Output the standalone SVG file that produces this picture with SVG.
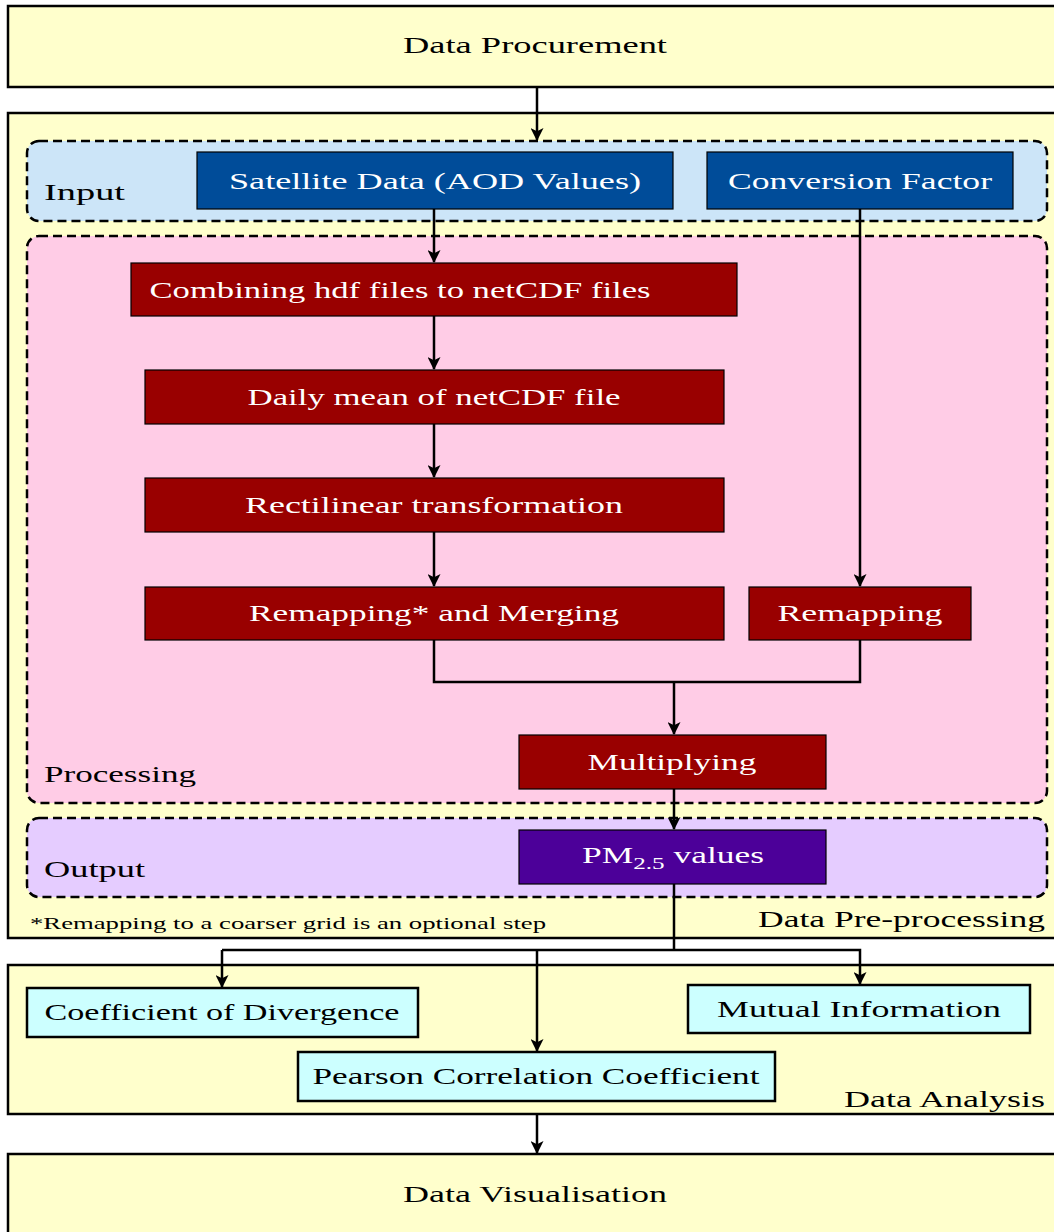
<svg xmlns="http://www.w3.org/2000/svg" width="1054" height="1232" viewBox="0 0 1054 1232">
<defs>
<marker id="ah" viewBox="0 0 12 12" refX="11" refY="6" markerWidth="13" markerHeight="13" markerUnits="userSpaceOnUse" orient="auto">
<path d="M0,0 L12,6 L0,12 L3,6 Z" fill="#000"/>
</marker>
<style>
text{font-family:"Liberation Serif","DejaVu Serif",serif;font-size:24px;fill:#000}
.w{fill:#fff;text-anchor:middle}
.c{text-anchor:middle}
.e{text-anchor:end}
.stage{fill:#ffffcc;stroke:#000;stroke-width:2.5}
.grp{stroke:#000;stroke-width:2.5;stroke-dasharray:9 5}
.blue{fill:#004c99;stroke:#000;stroke-width:1.2}
.red{fill:#990000;stroke:#000;stroke-width:1.2}
.purple{fill:#4c0099;stroke:#000;stroke-width:1.2}
.cyan{fill:#ccffff;stroke:#000;stroke-width:2.5}
.con{fill:none;stroke:#000;stroke-width:2.5}
</style>
</defs>

<g id="data-procurement">
<rect class="stage" x="8" y="6" width="1060" height="81"/>
<text class="c" x="535" y="53" textLength="264" lengthAdjust="spacingAndGlyphs">Data Procurement</text>
</g>

<g id="data-preprocessing">
<rect class="stage" x="8" y="113" width="1060" height="825"/>
<text class="e" x="1045" y="927" textLength="287" lengthAdjust="spacingAndGlyphs">Data Pre-processing</text>
<text x="30" y="929" style="font-size:17px" textLength="516" lengthAdjust="spacingAndGlyphs">*Remapping to a coarser grid is an optional step</text>
</g>

<g id="input-group">
<rect class="grp" x="27" y="141" width="1020" height="80" rx="12" fill="#cce5f8"/>
<text x="44" y="200" textLength="81" lengthAdjust="spacingAndGlyphs">Input</text>
</g>

<g id="processing-group">
<rect class="grp" x="27" y="236" width="1020" height="567" rx="12" fill="#ffcce6"/>
<text x="44" y="782" textLength="152" lengthAdjust="spacingAndGlyphs">Processing</text>
</g>

<g id="output-group">
<rect class="grp" x="27" y="818" width="1020" height="79" rx="12" fill="#e5ccff"/>
<text x="44" y="877" textLength="101" lengthAdjust="spacingAndGlyphs">Output</text>
</g>

<g id="satellite-data">
<rect class="blue" x="197" y="152" width="476" height="57"/>
<text class="w" x="435" y="189" textLength="412" lengthAdjust="spacingAndGlyphs">Satellite Data (AOD Values)</text>
</g>

<g id="conversion-factor">
<rect class="blue" x="707" y="152" width="306" height="57"/>
<text class="w" x="860" y="189" textLength="264" lengthAdjust="spacingAndGlyphs">Conversion Factor</text>
</g>

<g id="combining">
<rect class="red" x="131" y="263" width="606" height="53"/>
<text class="w" x="400" y="298" textLength="501" lengthAdjust="spacingAndGlyphs">Combining hdf files to netCDF files</text>
</g>

<g id="daily-mean">
<rect class="red" x="145" y="370" width="579" height="54"/>
<text class="w" x="434" y="405" textLength="373" lengthAdjust="spacingAndGlyphs">Daily mean of netCDF file</text>
</g>

<g id="rectilinear">
<rect class="red" x="145" y="478" width="579" height="54"/>
<text class="w" x="434" y="513" textLength="378" lengthAdjust="spacingAndGlyphs">Rectilinear transformation</text>
</g>

<g id="remapping-merging">
<rect class="red" x="145" y="587" width="579" height="53"/>
<text class="w" x="434" y="621" textLength="370" lengthAdjust="spacingAndGlyphs">Remapping* and Merging</text>
</g>

<g id="remapping">
<rect class="red" x="749" y="587" width="222" height="53"/>
<text class="w" x="860" y="621" textLength="165" lengthAdjust="spacingAndGlyphs">Remapping</text>
</g>

<g id="multiplying">
<rect class="red" x="519" y="735" width="307" height="54"/>
<text class="w" x="672" y="770" textLength="169" lengthAdjust="spacingAndGlyphs">Multiplying</text>
</g>

<g id="pm25">
<rect class="purple" x="519" y="830" width="307" height="54"/>
<text x="582" y="863" style="fill:#fff" textLength="182" lengthAdjust="spacingAndGlyphs">PM<tspan style="font-size:17px" dy="6">2.5</tspan><tspan dy="-6"> values</tspan></text>
</g>

<g id="data-analysis">
<rect class="stage" x="8" y="965" width="1060" height="149"/>
<text class="e" x="1045" y="1107" textLength="201" lengthAdjust="spacingAndGlyphs">Data Analysis</text>
</g>

<g id="coefficient-divergence">
<rect class="cyan" x="27" y="988" width="391" height="49"/>
<text class="c" x="222" y="1020" textLength="355" lengthAdjust="spacingAndGlyphs">Coefficient of Divergence</text>
</g>

<g id="mutual-information">
<rect class="cyan" x="688" y="985" width="342" height="48"/>
<text class="c" x="859" y="1017" textLength="284" lengthAdjust="spacingAndGlyphs">Mutual Information</text>
</g>

<g id="pearson">
<rect class="cyan" x="298" y="1052" width="477" height="49"/>
<text class="c" x="536" y="1084" textLength="447" lengthAdjust="spacingAndGlyphs">Pearson Correlation Coefficient</text>
</g>

<g id="data-visualisation">
<rect class="stage" x="8" y="1154" width="1060" height="90"/>
<text class="c" x="535" y="1202" textLength="264" lengthAdjust="spacingAndGlyphs">Data Visualisation</text>
</g>

<g id="connectors">
<path class="con" d="M537,87 V140" marker-end="url(#ah)"/>
<path class="con" d="M434,209 V262" marker-end="url(#ah)"/>
<path class="con" d="M434,316 V369" marker-end="url(#ah)"/>
<path class="con" d="M434,424 V477" marker-end="url(#ah)"/>
<path class="con" d="M434,532 V586" marker-end="url(#ah)"/>
<path class="con" d="M860,209 V586" marker-end="url(#ah)"/>
<path class="con" d="M434,640 V682 H860 V640"/>
<path class="con" d="M674,682 V734" marker-end="url(#ah)"/>
<path class="con" d="M674,789 V829" marker-end="url(#ah)"/>
<path class="con" d="M674,884 V950"/>
<path class="con" d="M222,950 H860 V984" marker-end="url(#ah)"/>
<path class="con" d="M222,950 V987" marker-end="url(#ah)"/>
<path class="con" d="M537,950 V1051" marker-end="url(#ah)"/>
<path class="con" d="M537,1114 V1153" marker-end="url(#ah)"/>
</g>
</svg>
